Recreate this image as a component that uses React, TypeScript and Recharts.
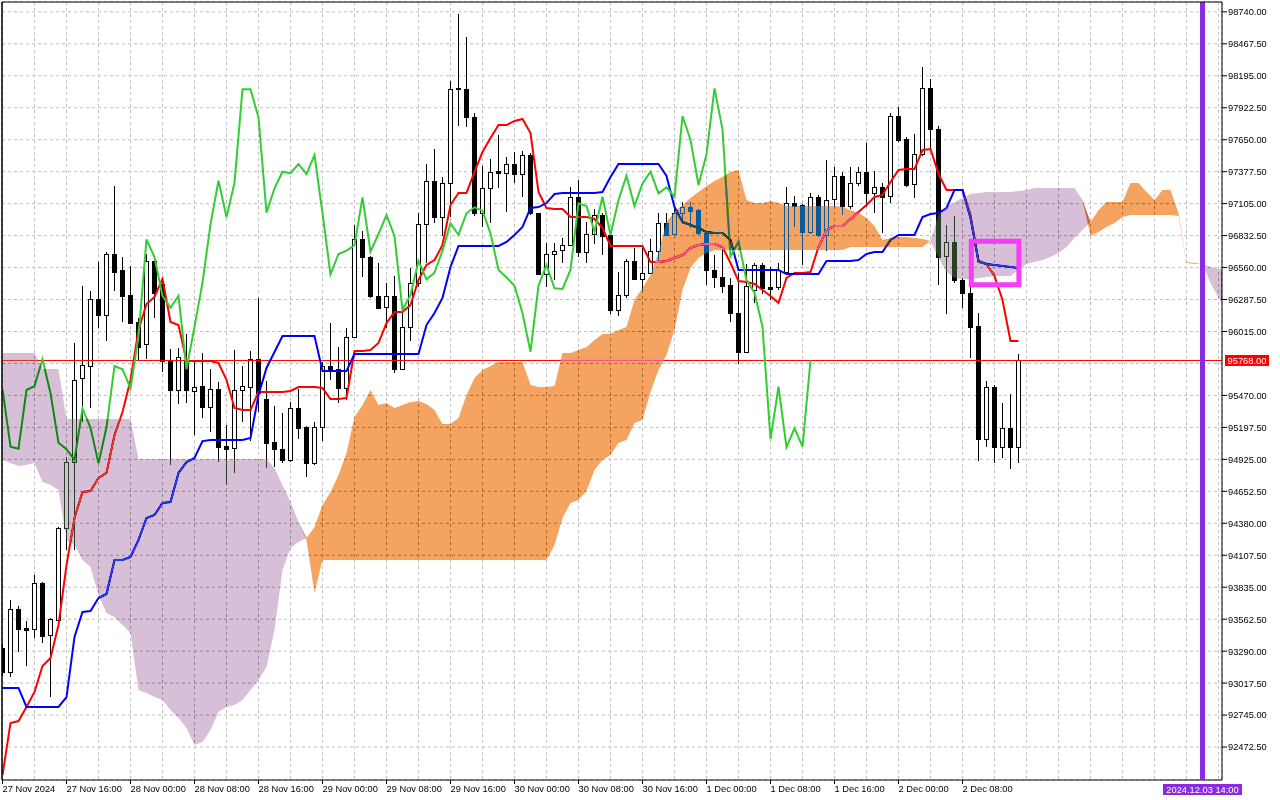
import React from 'react';
import {
  ComposedChart,
  Bar,
  Line,
  Area,
  XAxis,
  YAxis,
  CartesianGrid,
  ReferenceLine,
  ReferenceArea
} from 'recharts';

// BTCUSD H1, one entry per bar starting 27 Nov 2024 08:00
const openPrices = [
  93317, 93115, 93652, 93490, 93476, 93868, 93425, 93556, 94337, 94900,
  95616, 95723, 96289, 96159, 96676, 96539, 96326, 96096, 95906, 96616,
  96417, 95772, 95516, 95772, 95510, 95550, 95374, 95522, 95039, 95019,
  95516, 95544, 95778, 95437, 95070, 95011, 94920, 95360, 95198, 94891,
  95198, 95721, 95693, 95531, 95971, 96801, 96648, 96320, 96221, 96320,
  95693, 96056, 96431, 96929, 97301, 96989, 97284, 98088, 98080, 97841,
  97028, 97236, 97383, 97364, 97443, 97355, 97520, 97023, 96503, 96676,
  96707, 96750, 97159, 96695, 96846, 97008, 96837, 96198, 96326, 96616,
  96462, 96516, 96704, 96937, 96846, 97023, 97074, 97050, 96852, 96540,
  96477, 96411, 96170, 95843, 96369, 96582, 96392, 96392, 96525, 97108,
  97094, 96866, 97164, 96838, 97142, 97343, 97085, 97278, 97377, 97193,
  97244, 97173, 97852, 97654, 97273, 97528, 98088, 97739, 96659, 96781,
  96454, 96346, 96062, 95096, 95544, 95028, 95190, 95033
];

const highPrices = [
  93350, 93726, 93675, 93547, 93939, 93880, 93573, 94345, 94948, 95914,
  96403, 96357, 96607, 96693, 97255, 96646, 96576, 96130, 96676, 96630,
  96480, 95866, 95874, 95994, 95757, 95829, 95693, 95587, 95218, 95857,
  95721, 95851, 96298, 95593, 95380, 95318, 95417, 95522, 95210, 95246,
  95755, 96085, 95885, 96042, 96923, 96872, 96660, 96596, 96431, 96488,
  96170, 96554, 97025, 97443, 97568, 97335, 98153, 98722, 98523, 97875,
  97426, 97483, 97690, 97503, 97548, 97556, 97540, 97025, 96772, 96772,
  96809, 97244, 97307, 96951, 97057, 97025, 96850, 96525, 96630, 96724,
  96724, 96801, 97028, 97028, 97065, 97122, 97122, 97060, 96860, 96667,
  96738, 96468, 96514, 96590, 96596, 96600, 96567, 96596, 97249, 97170,
  97100, 97198, 97180, 97477, 97415, 97377, 97415, 97420, 97619, 97386,
  97278, 97880, 97926, 97670, 97699, 98267, 98165, 97767, 96923, 97000,
  96470, 96400, 96175, 95596, 95560, 95403, 95482, 95823
];

const lowPrices = [
  93080, 93072, 93285, 93163, 93399, 93357, 92902, 93540, 94152, 94152,
  95243, 95367, 96045, 95937, 96363, 96098, 96082, 95772, 95781, 96130,
  95671, 94877, 95397, 95403, 95133, 95275, 95161, 94905, 94706, 94811,
  95246, 95084, 95331, 94848, 94862, 94891, 94905, 95096, 94772, 94874,
  95084, 95602, 95408, 95431, 95968, 96482, 96298, 96213, 96042, 95664,
  95690, 95937, 96397, 96596, 96937, 96829, 96994, 97767, 97761, 96999,
  96908, 96937, 97236, 97036, 97284, 97164, 97008, 96497, 96397, 96454,
  96601, 96745, 96653, 96601, 96761, 96667, 96164, 96147, 96300, 96450,
  96354, 96511, 96610, 96830, 96840, 96931, 96895, 96837, 96411, 96383,
  96346, 96099, 95738, 95835, 96255, 96335, 96283, 96369, 96510, 96908,
  96582, 96850, 96820, 96704, 97080, 97008, 97057, 97255, 97079, 97028,
  96857, 97113, 97630, 97244, 97150, 97511, 97562, 96411, 96164, 96426,
  96213, 95787, 94913, 95033, 94891, 94934, 94840, 94891
];

const closePrices = [
  93112, 93647, 93479, 93470, 93868, 93422, 93561, 94337, 94900, 95601,
  95729, 96289, 96159, 96676, 96524, 96320, 96088, 95883, 96616, 96343,
  95763, 95516, 95795, 95516, 95544, 95374, 95522, 95033, 95016, 95516,
  95550, 95778, 95488, 95067, 95011, 94920, 95360, 95195, 94891, 95198,
  95721, 95693, 95531, 95971, 96801, 96648, 96318, 96218, 96320, 95693,
  96056, 96431, 96929, 97301, 96989, 97284, 98080, 98080, 97841, 97028,
  97236, 97377, 97364, 97443, 97358, 97520, 97023, 96503, 96676, 96704,
  96750, 97159, 96695, 96846, 97008, 96829, 96198, 96326, 96616, 96460,
  96516, 96704, 96937, 96838, 97023, 97074, 97045, 96852, 96540, 96477,
  96405, 96170, 95843, 96405, 96582, 96383, 96378, 96540, 97108, 97085,
  96866, 97164, 96838, 97136, 97343, 97085, 97278, 97377, 97193, 97244,
  97164, 97852, 97648, 97264, 97526, 98088, 97739, 96653, 96781, 96454,
  96346, 96056, 95096, 95544, 95028, 95190, 95033, 95768
];

const tenkanSen = [
  92234, 92677, 92694, 92814, 92942, 93163, 93232, 93513, 94024, 94425,
  94647, 94655, 94766, 94809, 95133, 95329, 95602, 96028, 96249, 96309,
  96463, 96096, 96070, 95763, 95763, 95763, 95763, 95746, 95602, 95363,
  95346, 95346, 95499, 95499, 95499, 95499, 95508, 95542, 95542, 95542,
  95533, 95439, 95439, 95448, 95849, 95849, 95857, 95917, 96087, 96181,
  96181, 96241, 96454, 96582, 96624, 96752, 97093, 97196, 97196, 97375,
  97545, 97665, 97775, 97775, 97810, 97827, 97707, 97204, 97068, 97059,
  97059, 96991, 96991, 96991, 96974, 96897, 96744, 96744, 96744, 96744,
  96744, 96607, 96607, 96616, 96642, 96667, 96727, 96752, 96761, 96761,
  96735, 96599, 96445, 96437, 96420, 96369, 96318, 96258, 96471, 96514,
  96514, 96522, 96735, 96880, 96914, 96914, 96974, 97034, 97093, 97162,
  97179, 97289, 97392, 97400, 97400, 97562, 97571, 97358, 97221, 97221,
  97221, 97008, 96607, 96590, 96488, 96284, 95934, 95934
];

const kijunSen = [
  92976, 92976, 92976, 92814, 92814, 92814, 92814, 92814, 92899, 93411,
  93624, 93632, 93743, 93777, 94067, 94067, 94093, 94238, 94425, 94451,
  94553, 94561, 94809, 94902, 94937, 95081, 95090, 95090, 95090, 95090,
  95090, 95107, 95474, 95704, 95840, 95977, 95977, 95977, 95977, 95977,
  95678, 95678, 95678, 95678, 95823, 95823, 95823, 95823, 95823, 95823,
  95823, 95823, 95823, 96070, 96173, 96301, 96565, 96744, 96744, 96744,
  96744, 96744, 96744, 96778, 96838, 96906, 97068, 97076, 97110, 97187,
  97196, 97196, 97196, 97196, 97196, 97204, 97332, 97443, 97443, 97443,
  97443, 97443, 97443, 97341, 97076, 96948, 96923, 96897, 96863, 96855,
  96855, 96795, 96539, 96539, 96539, 96539, 96539, 96539, 96505, 96505,
  96505, 96505, 96505, 96616, 96616, 96616, 96616, 96624, 96676, 96693,
  96693, 96795, 96838, 96838, 96838, 96991, 97017, 97025, 97068, 97221,
  97221, 96983, 96616, 96590, 96582, 96573, 96565, 96556
];

// Senkou spans already shifted 26 bars forward (154 bars incl. future)
const senkouSpanA = [
  94920, 94894, 94868, 94877, 94894, 94732, 94706, 94664, 94238, 94195,
  94067, 94007, 93769, 93615, 93581, 93513, 93445, 92959, 92933, 92899,
  92874, 92788, 92720, 92635, 92490, 92515, 92618, 92771, 92814, 92831,
  92874, 92959, 93044, 93155, 93470, 93982, 94169, 94220, 94255, 94348,
  94536, 94647, 94792, 94979, 95286, 95388, 95516, 95388, 95405, 95363,
  95388, 95414, 95423, 95397, 95346, 95227, 95227, 95278, 95474, 95619,
  95687, 95721, 95755, 95755, 95755, 95755, 95559, 95542, 95542, 95550,
  95832, 95832, 95857, 95883, 95943, 95994, 95994, 96028, 96053, 96284,
  96386, 96497, 96693, 96948, 97034, 97093, 97153, 97204, 97255, 97298,
  97332, 97375, 97392, 97136, 97110, 97110, 97128, 97110, 97085, 97085,
  97085, 97085, 97085, 97085, 97085, 97076, 97051, 97025, 96983, 96914,
  96795, 96812, 96821, 96821, 96812, 96804, 96786, 96642, 96522, 96471,
  96463, 96463, 96471, 96480, 96488, 96488, 96488, 96539, 96590, 96607,
  96624, 96650, 96684, 96735, 96812, 96880, 96948, 97051, 97119, 97119,
  97119, 97281, 97281, 97204, 97136, 97221, 97221, 97025, 96607, 96599,
  96590, 96428, 96301, 96215
];

const senkouSpanB = [
  95832, 95832, 95832, 95832, 95832, 95695, 95695, 95695, 95269, 95269,
  95269, 95269, 95269, 95269, 95269, 95269, 95269, 94928, 94928, 94928,
  94928, 94928, 94928, 94928, 94928, 94928, 94928, 94928, 94928, 94928,
  94928, 94928, 94928, 94928, 94851, 94706, 94561, 94391, 94238, 93786,
  94067, 94067, 94067, 94067, 94067, 94067, 94067, 94067, 94067, 94067,
  94067, 94067, 94067, 94067, 94067, 94067, 94067, 94067, 94067, 94067,
  94067, 94067, 94067, 94067, 94067, 94067, 94067, 94067, 94067, 94195,
  94425, 94553, 94579, 94655, 94834, 94920, 94962, 95064, 95090, 95235,
  95261, 95499, 95687, 95815, 96028, 96369, 96556, 96642, 96684, 96710,
  96710, 96710, 96710, 96710, 96710, 96710, 96710, 96710, 96710, 96710,
  96710, 96710, 96710, 96710, 96710, 96710, 96735, 96735, 96735, 96735,
  96735, 96735, 96735, 96735, 96735, 96735, 96786, 97008, 97076, 97119,
  97153, 97187, 97196, 97204, 97204, 97204, 97204, 97213, 97221, 97238,
  97238, 97238, 97238, 97238, 97238, 97136, 96829, 96863, 96906, 96940,
  96991, 97008, 97008, 97008, 97008, 97008, 97008, 96999, 96599, 96590,
  96590, 96565, 96548, 96539
];

// one label every 8 bars
const timeLabels = [
  '27 Nov 2024', '27 Nov 16:00', '28 Nov 00:00', '28 Nov 08:00',
  '28 Nov 16:00', '29 Nov 00:00', '29 Nov 08:00', '29 Nov 16:00',
  '30 Nov 00:00', '30 Nov 08:00', '30 Nov 16:00', '1 Dec 00:00',
  '1 Dec 08:00', '1 Dec 16:00', '2 Dec 00:00', '2 Dec 08:00'
];

const priceTicks = [
  98740, 98467.5, 98195, 97922.5, 97650, 97377.5, 97105, 96832.5,
  96560, 96287.5, 96015, 95742.5, 95470, 95197.5, 94925, 94652.5,
  94380, 94107.5, 93835, 93562.5, 93290, 93017.5, 92745, 92472.5
];

const barTicks = Array.from({ length: 39 }, (_, k) => k * 4);

const BID = 95768;
const CHIKOU_SHIFT = 26;
const CURSOR_BAR = 150;
const CURSOR_TEXT = '2024.12.03 14:00';
const BOX = { x1: 121.1, x2: 127.05, y1: 96414, y2: 96784 };

const X_DOMAIN = [-0.0625, 152.4375];
const Y_DOMAIN = [92191.5, 98824];

// cloud colours are the XOR complements, painted with a difference blend
const SANDY_XOR = '#0b5b9f';
const THISTLE_XOR = '#274027';
const FONT = '"Liberation Sans", Arial, sans-serif';

const data = senkouSpanA.map((a, i) => {
  const b = senkouSpanB[i];
  const hasBar = i < closePrices.length;
  return {
    i,
    range: hasBar ? [lowPrices[i], highPrices[i]] : null,
    open: hasBar ? openPrices[i] : null,
    high: hasBar ? highPrices[i] : null,
    low: hasBar ? lowPrices[i] : null,
    close: hasBar ? closePrices[i] : null,
    tenkan: tenkanSen[i] ?? null,
    kijun: kijunSen[i] ?? null,
    chikou: closePrices[i + CHIKOU_SHIFT] ?? null,
    upCloud: [b, Math.max(a, b)],
    downCloud: [a, Math.max(a, b)]
  };
});

const Candle = (props: any) => {
  const { x, y, width, height, payload } = props;
  if (!payload || payload.open == null) return <g />;
  const { open, close, high, low } = payload;
  const cx = x + width / 2;
  const top = Math.min(y, y + height);
  const bottom = Math.max(y, y + height);
  const k = high > low ? (bottom - top) / (high - low) : 0;
  const yOf = (v: number) => top + (high - v) * k;
  const bodyTop = Math.round(yOf(Math.max(open, close))) + 0.5;
  const bodyBottom = Math.max(Math.round(yOf(Math.min(open, close))) + 0.5, bodyTop + 1);
  const bull = close > open;
  return (
    <g shapeRendering="crispEdges">
      <line x1={cx} x2={cx} y1={top} y2={bottom} stroke="#000" strokeWidth={1} />
      <rect
        x={cx - 2}
        y={bodyTop}
        width={4}
        height={bodyBottom - bodyTop}
        fill={bull ? '#fff' : '#000'}
        stroke="#000"
        strokeWidth={1}
      />
    </g>
  );
};

const TimeTick = (props: any) => {
  const { x, y, payload } = props;
  const v = payload.value;
  const idx = v / 8;
  if (v % 8 !== 0 || idx >= timeLabels.length) return <g />;
  return (
    <g>
      <line x1={x} x2={x} y1={y} y2={y + 4} stroke="#000" />
      <text x={x} y={y + 12} fontSize={9.3} fontFamily={FONT} fill="#000" textAnchor="start">
        {timeLabels[idx]}
      </text>
    </g>
  );
};

const PriceTick = (props: any) => {
  const { x, y, payload } = props;
  // hidden behind the bid label
  if (payload.value === 95742.5) return <g />;
  return (
    <g>
      <line x1={x} x2={x + 5} y1={y} y2={y} stroke="#000" />
      <text x={x + 6} y={y + 3.4} fontSize={9.3} fontFamily={FONT} fill="#000" textAnchor="start">
        {payload.value.toFixed(2)}
      </text>
    </g>
  );
};

const BidLabel = (props: any) => {
  const vb = props.viewBox || {};
  const x = vb.x + vb.width + 3;
  const y = vb.y;
  return (
    <g>
      <rect x={x} y={y - 5.5} width={44} height={11} fill="#ff0000" />
      <text x={x + 22} y={y + 3.4} fontSize={9.3} fontFamily={FONT} fill="#fff" textAnchor="middle">
        {BID.toFixed(2)}
      </text>
    </g>
  );
};

const CursorLabel = (props: any) => {
  const vb = props.viewBox || {};
  const cx = vb.x + (vb.width || 0) / 2;
  const y = vb.y + vb.height + 4;
  return (
    <g>
      <rect x={cx - 39.5} y={y} width={79} height={11} fill="#8a2be2" />
      <text x={cx} y={y + 8.8} fontSize={9.3} fontFamily={FONT} fill="#fff" textAnchor="middle">
        {CURSOR_TEXT}
      </text>
    </g>
  );
};

export default function App() {
  return (
    <div style={{ width: 1280, height: 800, background: '#fff' }}>
      <style>{'body{margin:0;background:#fff} .xor{mix-blend-mode:difference}'}</style>
      <ComposedChart
        width={1280}
        height={800}
        data={data}
        margin={{ top: 2, right: 0, bottom: 0, left: 2 }}
      >
        <CartesianGrid stroke="#c0c0c0" strokeDasharray="3 3" fill="#ffffff" fillOpacity={1} />
        <XAxis
          dataKey="i"
          type="number"
          domain={X_DOMAIN}
          allowDataOverflow
          ticks={barTicks}
          interval={0}
          height={20}
          tickSize={0}
          tickMargin={0}
          tickLine={false}
          axisLine={{ stroke: '#000' }}
          tick={<TimeTick />}
        />
        <YAxis
          orientation="right"
          type="number"
          domain={Y_DOMAIN}
          allowDataOverflow
          ticks={priceTicks}
          interval={0}
          width={58}
          tickSize={0}
          tickMargin={0}
          tickLine={false}
          axisLine={{ stroke: '#000' }}
          tick={<PriceTick />}
        />
        <ReferenceLine y={BID} stroke="#ff0000" strokeWidth={1} zIndex={350} label={BidLabel} />
        <Bar
          dataKey="range"
          barSize={5}
          shape={Candle}
          isAnimationActive={false}
          zIndex={300}
        />
        <Line type="linear" dataKey="tenkan" stroke="#ff0000" strokeWidth={2} dot={false} activeDot={false} isAnimationActive={false} zIndex={400} />
        <Line type="linear" dataKey="kijun" stroke="#0000ff" strokeWidth={2} dot={false} activeDot={false} isAnimationActive={false} zIndex={400} />
        <Line type="linear" dataKey="chikou" stroke="#32cd32" strokeWidth={2} dot={false} activeDot={false} isAnimationActive={false} zIndex={400} />
        <Area
          type="linear"
          dataKey="upCloud"
          className="xor"
          stroke="none"
          fill={SANDY_XOR}
          fillOpacity={1}
          activeDot={false}
          isAnimationActive={false}
          zIndex={1000}
        />
        <Area
          type="linear"
          dataKey="downCloud"
          className="xor"
          stroke="none"
          fill={THISTLE_XOR}
          fillOpacity={1}
          activeDot={false}
          isAnimationActive={false}
          zIndex={1000}
        />
        <ReferenceArea
          x1={BOX.x1}
          x2={BOX.x2}
          y1={BOX.y1}
          y2={BOX.y2}
          fill="none"
          fillOpacity={0}
          stroke="#f53df5"
          strokeWidth={5}
          zIndex={1500}
        />
        <ReferenceLine x={CURSOR_BAR} stroke="#8a2be2" strokeWidth={5} zIndex={1500} label={CursorLabel} />
        <ReferenceLine y={Y_DOMAIN[1]} stroke="#000" strokeWidth={1} zIndex={1500} />
        <ReferenceLine x={X_DOMAIN[0]} stroke="#000" strokeWidth={1.5} zIndex={1500} />
      </ComposedChart>
    </div>
  );
}
